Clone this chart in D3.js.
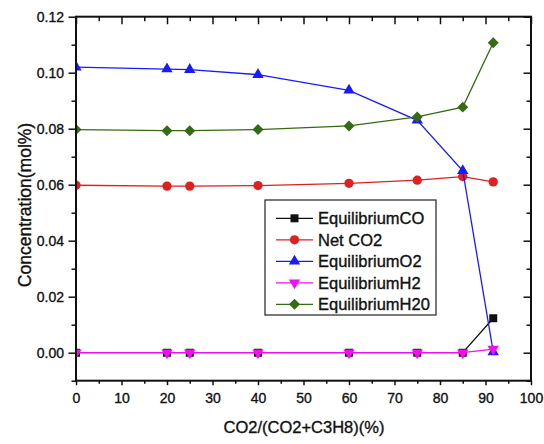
<!DOCTYPE html>
<html>
<head>
<meta charset="utf-8">
<script src="https://cdn.jsdelivr.net/npm/d3@7"></script>
<style>
  body { margin: 0; background: #fff; }
  svg text { font-family: "Liberation Sans", Arial, sans-serif; fill: #111; stroke: #111; stroke-width: 0.35px; }
</style>
</head>
<body>
<div id="chart"></div>
<script>
// data
const ratio = [0, 20, 25, 40, 60, 75, 85, 91.7];
const equilibriumCO = [0, 0, 0, 0, 0, 0, 0, 0.0123];
const netCO2 = [0.0598, 0.0595, 0.0595, 0.0597, 0.0605, 0.0616, 0.0629, 0.0610];
const equilibriumO2 = [0.1020, 0.1013, 0.1011, 0.0993, 0.0937, 0.0830, 0.0650, 0.0003];
const equilibriumH2 = [0, 0, 0, 0, 0, 0, 0, 0.0013];
const equilibriumH20 = [0.0797, 0.0793, 0.0793, 0.0797, 0.0810, 0.0842, 0.0877, 0.1107];
const seriesNames = ["EquilibriumCO", "Net CO2", "EquilibriumO2", "EquilibriumH2", "EquilibriumH20"];
const xTicks = [0, 10, 20, 30, 40, 50, 60, 70, 80, 90, 100];
const yTicks = [0.00, 0.02, 0.04, 0.06, 0.08, 0.10, 0.12];

const W = 544, H = 444;
const plotLeft = 76, plotRight = 531, plotTop = 16.7, plotBottom = 380.7;

const series = [
    { name: seriesNames[0], values: equilibriumCO, color: "#111111", shape: "square" },
    { name: seriesNames[1], values: netCO2, color: "#dd2020", shape: "circle" },
    { name: seriesNames[2], values: equilibriumO2, color: "#1a1aff", shape: "triangle" },
    { name: seriesNames[3], values: equilibriumH2, color: "#ee11ee", shape: "down" },
    { name: seriesNames[4], values: equilibriumH20, color: "#356b12", shape: "diamond" }
];

let svg = d3.select("#chart").append("svg")
    .attr("width", W)
    .attr("height", H);

svg.append("defs").append("clipPath")
    .attr("id", "plotClip")
    .append("rect")
    .attr("x", plotLeft)
    .attr("y", plotTop)
    .attr("width", plotRight - plotLeft)
    .attr("height", plotBottom - plotTop);

let x = d3.scaleLinear().domain([0, 100]).range([plotLeft, plotRight]);
let y = d3.scaleLinear().domain([-0.01, 0.12]).range([plotBottom, plotTop]);

const majorLen = 7.5, minorLen = 4.5;
const xMinor = d3.range(5, 100, 10);
const yMinor = [-0.01, 0.01, 0.03, 0.05, 0.07, 0.09, 0.11];

// bottom axis (short ticks outward)
svg.append("g")
    .attr("transform", "translate(0," + plotBottom + ")")
    .call(d3.axisBottom(x).tickValues(xTicks).tickSize(4.5).tickPadding(8).tickFormat(d3.format("d")))
    .call(g => g.selectAll("text").style("font-size", "14px"))
    .call(g => g.select(".domain").remove());
svg.append("g")
    .attr("transform", "translate(0," + plotBottom + ")")
    .call(d3.axisBottom(x).tickValues(xMinor).tickSize(3).tickFormat(""))
    .call(g => g.select(".domain").remove());

// top axis (ticks inward)
svg.append("g")
    .attr("transform", "translate(0," + plotTop + ")")
    .call(d3.axisBottom(x).tickValues(xTicks).tickSize(majorLen).tickFormat(""))
    .call(g => g.select(".domain").remove());
svg.append("g")
    .attr("transform", "translate(0," + plotTop + ")")
    .call(d3.axisBottom(x).tickValues(xMinor).tickSize(minorLen).tickFormat(""))
    .call(g => g.select(".domain").remove());

// left axis (ticks outward)
svg.append("g")
    .attr("transform", "translate(" + plotLeft + ",0)")
    .call(d3.axisLeft(y).tickValues(yTicks).tickSize(majorLen).tickPadding(4.5).tickFormat(d3.format(".2f")))
    .call(g => g.selectAll("text").style("font-size", "14px"))
    .call(g => g.select(".domain").remove());
svg.append("g")
    .attr("transform", "translate(" + plotLeft + ",0)")
    .call(d3.axisLeft(y).tickValues(yMinor).tickSize(minorLen).tickFormat(""))
    .call(g => g.select(".domain").remove());

// right axis (ticks inward)
svg.append("g")
    .attr("transform", "translate(" + plotRight + ",0)")
    .call(d3.axisLeft(y).tickValues(yTicks).tickSize(majorLen).tickFormat(""))
    .call(g => g.select(".domain").remove());
svg.append("g")
    .attr("transform", "translate(" + plotRight + ",0)")
    .call(d3.axisLeft(y).tickValues(yMinor).tickSize(minorLen).tickFormat(""))
    .call(g => g.select(".domain").remove());

svg.selectAll(".tick line").attr("stroke", "#111").attr("stroke-width", 1.5);

function markerPath(shape) {
    if (shape == "square") return d3.symbol(d3.symbolSquare, 64)();
    if (shape == "circle") return d3.symbol(d3.symbolCircle, 68)();
    if (shape == "triangle" || shape == "down") return d3.symbol(d3.symbolTriangle, 56)();
    return d3.symbol(d3.symbolSquare, 60)();
}
function markerRotate(shape) {
    if (shape == "down") return " rotate(180)";
    if (shape == "diamond") return " rotate(45)";
    return "";
}

let line = d3.line()
    .x((d, i) => x(ratio[i]))
    .y(d => y(d));

let plot = svg.append("g").attr("clip-path", "url(#plotClip)");
series.forEach(s => {
    let g = plot.append("g");
    g.append("path")
        .attr("d", line(s.values))
        .attr("fill", "none")
        .attr("stroke", s.color)
        .attr("stroke-width", 1.3);
    g.selectAll("path.mark")
        .data(s.values)
        .enter()
        .append("path")
        .attr("class", "mark")
        .attr("d", markerPath(s.shape))
        .attr("transform", (d, i) => "translate(" + x(ratio[i]) + "," + y(d) + ")" + markerRotate(s.shape))
        .attr("fill", s.color);
});

// frame
svg.append("rect")
    .attr("x", plotLeft)
    .attr("y", plotTop)
    .attr("width", plotRight - plotLeft)
    .attr("height", plotBottom - plotTop)
    .attr("fill", "none")
    .attr("stroke", "#111")
    .attr("stroke-width", 2);

// legend
let lg = svg.append("g");
lg.append("rect")
    .attr("x", 265)
    .attr("y", 200)
    .attr("width", 171)
    .attr("height", 115)
    .attr("fill", "#fff")
    .attr("stroke", "#222")
    .attr("stroke-width", 1.2);
series.forEach((s, i) => {
    let cy = 218.3 + i * 21.5;
    lg.append("line")
        .attr("x1", 276).attr("x2", 313)
        .attr("y1", cy).attr("y2", cy)
        .attr("stroke", s.color)
        .attr("stroke-width", 1.3);
    lg.append("path")
        .attr("d", markerPath(s.shape))
        .attr("transform", "translate(294.5," + cy + ")" + markerRotate(s.shape))
        .attr("fill", s.color);
    lg.append("text")
        .attr("x", 318)
        .attr("y", cy + 6)
        .style("font-size", "16.5px")
        .text(s.name);
});

// axis titles
svg.append("text")
    .attr("x", 304)
    .attr("y", 433)
    .attr("text-anchor", "middle")
    .style("font-size", "16.5px")
    .text("CO2/(CO2+C3H8)(%)");
svg.append("text")
    .attr("transform", "translate(31,205) rotate(-90)")
    .attr("text-anchor", "middle")
    .style("font-size", "17.5px")
    .text("Concentration(mol%)");
</script>
</body>
</html>
